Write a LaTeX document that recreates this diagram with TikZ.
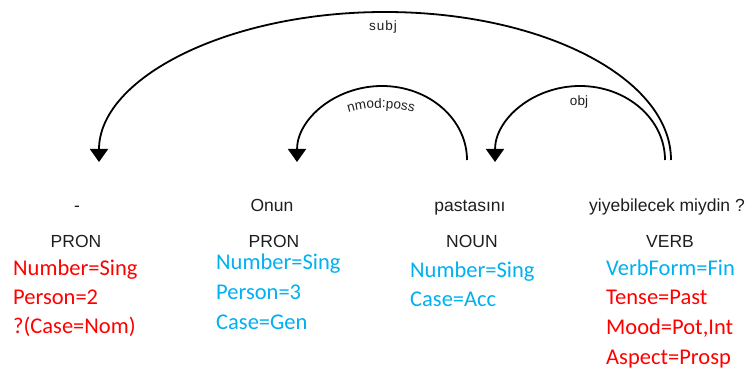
\documentclass[tikz,border=0pt]{standalone}
\usepackage{fontspec}
\newfontfamily\arialf{Liberation Sans}
\newfontfamily\calib{Carlito}
\usetikzlibrary{arrows.meta,decorations.text}
\definecolor{featred}{RGB}{255,0,0}
\definecolor{featblue}{RGB}{0,176,240}
\definecolor{wordgray}{RGB}{30,30,30}
\tikzset{
  wordnode/.style={inner sep=0pt, anchor=base, text=wordgray, font=\arialf\fontsize{17.5}{20}\selectfont},
  featnode/.style={inner sep=0pt, anchor=base west, font=\calib\fontsize{22.5}{26}\selectfont},
  redf/.style={featnode, text=featred},
  bluef/.style={featnode, text=featblue},
  deparc/.style={line width=1.8pt, -{Triangle[width=18pt,length=13pt]}},
  arclabel/.style={inner sep=0pt, text=wordgray, font=\arialf\fontsize{13.5}{15}\selectfont}
}
\begin{document}
\begin{tikzpicture}[x=1pt,y=1pt]
\useasboundingbox (0,0) rectangle (752,372);
% words
\node[wordnode] (w1) at (77,160) {-};
\node[wordnode] (w2) at (272,160) {Onun};
\node[wordnode] (w3) at (470,160) {pastasını};
\node[wordnode] (w4) at (667,160) {yiyebilecek miydin ?};
% POS
\node[wordnode] (p1) at (76,124) {PRON};
\node[wordnode] (p2) at (274,124) {PRON};
\node[wordnode] (p3) at (472,124) {NOUN};
\node[wordnode] (p4) at (670,124) {VERB};
% features column 1
\node[redf] (f1a) at (13,96) {Number=Sing};
\node[redf] (f1b) at (13,67) {Person=2};
\node[redf] (f1c) at (13,38) {?(Case=Nom)};
% column 2
\node[bluef] (f2a) at (216,102) {Number=Sing};
\node[bluef] (f2b) at (216,72) {Person=3};
\node[bluef] (f2c) at (216,42) {Case=Gen};
% column 3
\node[bluef] (f3a) at (410,94) {Number=Sing};
\node[bluef] (f3b) at (410,65) {Case=Acc};
% column 4
\node[bluef] (f4a) at (606,96) {VerbForm=Fin};
\node[redf] (f4b) at (606,67) {Tense=Past};
\node[redf] (f4c) at (606,37) {Mood=Pot,Int};
\node[redf] (f4d) at (606,7) {Aspect=Prosp};
% arc end points
\coordinate (subjS) at (671,212);
\coordinate (subjT) at (385,360);
\coordinate (subjE) at (99,210);
\coordinate (nmodS) at (467,212);
\coordinate (nmodT) at (382,286);
\coordinate (nmodE) at (297,210);
\coordinate (objS) at (665,212);
\coordinate (objT) at (580,286);
\coordinate (objE) at (495,210);
% arcs
\draw[deparc] (subjS) .. controls (671,293.7) and (542.9,360) .. (subjT)
  .. controls (227.1,360) and (99,293.7) .. (subjE);
\draw[deparc] (nmodS) .. controls (467,252.8) and (428.9,286) .. (nmodT)
  .. controls (335.1,286) and (297,252.8) .. (nmodE);
\draw[deparc] (objS) .. controls (665,252.8) and (626.9,286) .. (objT)
  .. controls (533.1,286) and (495,252.8) .. (objE);
% labels
\node[arclabel] (lsubj) at (383,345) {\addfontfeature{LetterSpace=8}subj};
\node[arclabel] (lobj) at (579,270) {obj};
\path[decorate, decoration={text along path, text align=center,
  text={|\arialf\fontsize{13.5}{15}\selectfont\color{wordgray}|nmod:poss}}]
  (301,209) arc[start angle=180, end angle=0, x radius=80, y radius=55];
\end{tikzpicture}
\end{document}
